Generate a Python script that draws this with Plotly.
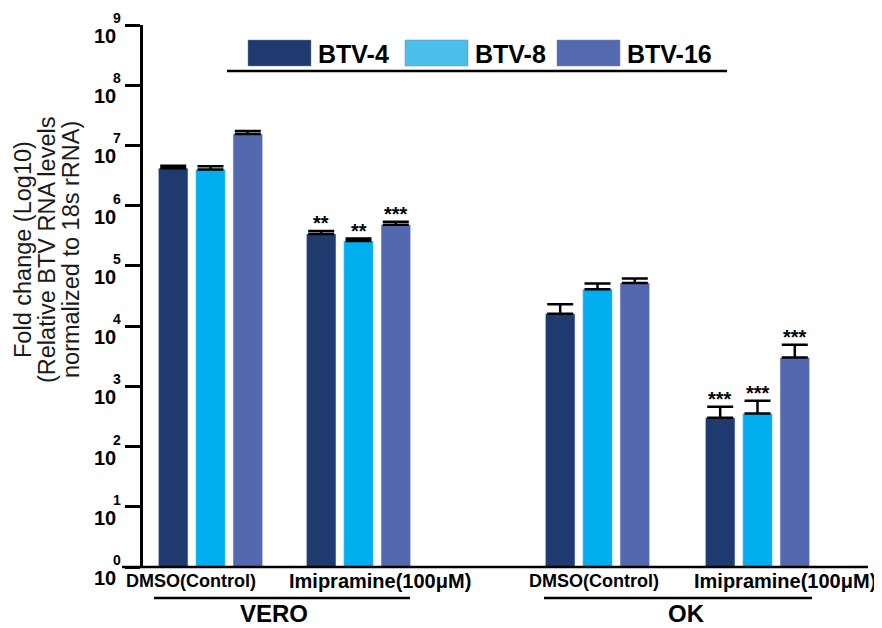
import math
import plotly.graph_objects as go

# ---------------- data ----------------
series = ["BTV-4", "BTV-8", "BTV-16"]
categories = ["DMSO(Control)", "Imipramine(100\u03bcM)", "DMSO(Control)", "Imipramine(100\u03bcM)"]
cell_lines = ["VERO", "OK"]

btv4 = [4.2e6, 3.4e5, 1.6e4, 300]
btv8 = [4.0e6, 2.6e5, 4.1e4, 355]
btv16 = [1.55e7, 4.8e5, 5.2e4, 3020]

btv4_err = [4.0e5, 4.0e4, 7.0e3, 157]
btv8_err = [5.0e5, 2.5e4, 1.0e4, 220]
btv16_err = [1.9e6, 6.0e4, 1.0e4, 1880]

btv4_sig = ["", "**", "", "***"]
btv8_sig = ["", "**", "", "***"]
btv16_sig = ["", "***", "", "***"]

y_exponents = list(range(0, 10))

# ---------------- styles / layout constants ----------------
bar_colors = ["#1F3A6E", "#00AEEF", "#5468B0"]
legend_colors = ["#1F3A6E", "#4BBFEC", "#5569B0"]
FONT = "Liberation Sans, Arial, sans-serif"

OFF = 8                     # page body margin
W, H = 882 - OFF, 628 - OFF
PLOT_L, PLOT_R, PLOT_T, PLOT_B = 143, 868, 25, 567   # page pixels
ML, MR, MT, MB = PLOT_L - OFF, OFF + W - PLOT_R, PLOT_T - OFF, OFF + H - PLOT_B
PW = PLOT_R - PLOT_L
PH = PLOT_B - PLOT_T

group_centers = [67.5, 215.5, 454.5, 614.5]   # x-axis units (px from plot left)
pitch = 37.3
bar_w = 29.5
label_centers = [48, 237, 451, 642]
label_sizes = [18, 20, 18, 20]
cell_line_spans = [(11, 267), (401, 669)]
cell_line_text_x = [131, 543]
legend_box_left = [105, 262, 414]


def px2x(px):
    return (px - PLOT_L) / PW


def py2y(py):
    return (PLOT_B - py) / PH


values = [btv4, btv8, btv16]
errors = [btv4_err, btv8_err, btv16_err]
sigs = [btv4_sig, btv8_sig, btv16_sig]

fig = go.Figure()
annotations = []
shapes = []

for i, name in enumerate(series):
    xs = [c + (i - 1) * pitch for c in group_centers]
    fig.add_trace(go.Bar(
        x=xs, y=values[i], name=name, width=bar_w,
        marker=dict(color=bar_colors[i], line=dict(color="rgba(220,225,240,0.6)", width=0.8)),
        error_y=dict(type="data", symmetric=False, array=errors[i],
                     arrayminus=[0] * len(errors[i]), color="black",
                     thickness=2.5, width=13),
    ))
    for x, v, e, s in zip(xs, values[i], errors[i], sigs[i]):
        if s:
            annotations.append(dict(x=x, y=math.log10(v + e), xref="x", yref="y",
                                    text="<b>%s</b>" % s, showarrow=False, yanchor="bottom",
                                    yshift=-5,
                                    font=dict(family=FONT, size=20, color="black")))

# y tick labels: 10 with superscript exponent
for k in y_exponents:
    annotations.append(dict(x=0, y=k, xref="paper", yref="y", text="<b>10</b>",
                            showarrow=False, xanchor="right", yanchor="middle",
                            xshift=-25, yshift=-11,
                            font=dict(family=FONT, size=20, color="black")))
    annotations.append(dict(x=0, y=k, xref="paper", yref="y", text="<b>%d</b>" % k,
                            showarrow=False, xanchor="center", yanchor="middle",
                            xshift=-26, yshift=7,
                            font=dict(family=FONT, size=14, color="black")))

# category labels
for cx, lab, fs in zip(label_centers, categories, label_sizes):
    annotations.append(dict(x=cx, y=0, xref="x", yref="paper", text="<b>%s</b>" % lab,
                            showarrow=False, xanchor="center", yanchor="middle",
                            yshift=-14, font=dict(family=FONT, size=fs, color="black")))

# cell line labels + underlines
for (a, b), tx, lab in zip(cell_line_spans, cell_line_text_x, cell_lines):
    shapes.append(dict(type="line", xref="x", yref="paper", x0=a, x1=b,
                       y0=py2y(598), y1=py2y(598), line=dict(color="black", width=2.5)))
    annotations.append(dict(x=tx, y=py2y(613), xref="x", yref="paper", text="<b>%s</b>" % lab,
                            showarrow=False, xanchor="center", yanchor="middle",
                            font=dict(family=FONT, size=24, color="black")))

# legend
for i, name in enumerate(series):
    x0 = legend_box_left[i]
    shapes.append(dict(type="rect", xref="x", yref="paper", x0=x0, x1=x0 + 63,
                       y0=py2y(66), y1=py2y(40), fillcolor=legend_colors[i],
                       line=dict(color="rgba(120,130,160,0.6)", width=0.8)))
    annotations.append(dict(x=x0 + 68, y=py2y(54), xref="x", yref="paper",
                            text="<b>%s</b>" % name, showarrow=False,
                            xanchor="left", yanchor="middle",
                            font=dict(family=FONT, size=25, color="black")))
shapes.append(dict(type="line", xref="x", yref="paper", x0=84, x1=584,
                   y0=py2y(71), y1=py2y(71), line=dict(color="black", width=2.5)))

# x-axis line (extends left of y axis)
shapes.append(dict(type="line", xref="paper", yref="paper", x0=px2x(122), x1=1,
                   y0=0, y1=0, line=dict(color="black", width=2.5)))

# y-axis title lines
title_lines = ["Fold change (Log10)", "(Relative BTV RNA levels", "normalized to 18s rRNA)"]
for lx, t in zip([23, 47, 71], title_lines):
    annotations.append(dict(x=px2x(lx), y=py2y(250), xref="paper", yref="paper", text=t,
                            showarrow=False, textangle=-90, xanchor="center", yanchor="middle",
                            font=dict(family=FONT, size=23.5, color="#1a1a1a")))

fig.update_layout(
    width=W, height=H,
    margin=dict(l=ML, r=MR, t=MT, b=MB, pad=0),
    plot_bgcolor="white", paper_bgcolor="white",
    showlegend=False, barmode="overlay",
    xaxis=dict(range=[0, PW], showgrid=False, zeroline=False, showticklabels=False,
               ticks="", showline=False, fixedrange=True),
    yaxis=dict(type="log", range=[0, 9], tickvals=[10 ** k for k in y_exponents],
               showticklabels=False, ticks="outside", ticklen=15, tickwidth=2.5,
               tickcolor="black", showline=True, linewidth=2.5, linecolor="black",
               showgrid=False, zeroline=False),
    annotations=annotations, shapes=shapes,
)

fig.write_html("out.html")
